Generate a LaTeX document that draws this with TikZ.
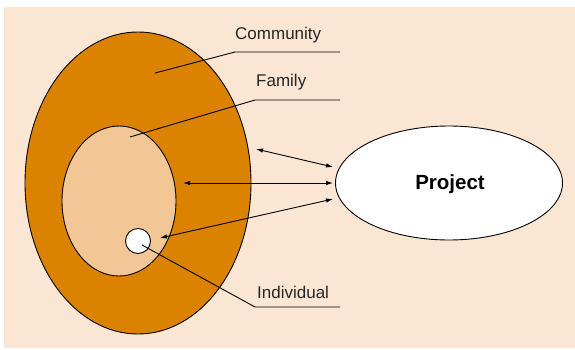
\documentclass[tikz,border=0pt]{standalone}
\usepackage{fontspec}
\setmainfont{Liberation Sans}
\usetikzlibrary{arrows.meta,shapes.geometric}
\definecolor{bgpeach}{HTML}{FAE6D3}
\definecolor{commorange}{HTML}{DB8300}
\definecolor{famtan}{HTML}{F2C795}
\begin{document}
\begin{tikzpicture}[x=1pt,y=-1pt,
  ring/.style={draw=black,line width=0.9pt},
  leader/.style={draw=black,line width=0.9pt},
  link/.style={draw=black,line width=0.9pt,{Latex[length=7pt,width=4.5pt]}-{Latex[length=7pt,width=4.5pt]}},
  lbl/.style={font=\fontsize{17}{19}\selectfont,text=black!85,inner sep=0pt,anchor=base west}]
\useasboundingbox (0,0) rectangle (575,350);
\fill[bgpeach] (4,7) rectangle (575,348);
% ellipses
\draw[ring,fill=commorange] (138,183) ellipse [x radius=113, y radius=151];
\draw[ring,fill=famtan] (119,201) ellipse [x radius=57, y radius=75];
\node[ring,fill=white,circle,minimum size=25pt,inner sep=0pt] (ind) at (138,241) {};
\node[ring,fill=white,ellipse,minimum width=227pt,minimum height=114pt,inner sep=0pt] (proj) at (449,183) {};
\node[font=\bfseries\fontsize{20.5}{22}\selectfont] at (450,184) {Project};
% coordinates
\coordinate (cA) at (155,73);
\coordinate (cB) at (235,52);
\coordinate (cC) at (340,52);
\coordinate (fA) at (130,137);
\coordinate (fB) at (255,100);
\coordinate (fC) at (340,100);
\coordinate (iA) at (142,245);
\coordinate (iB) at (255,307);
\coordinate (iC) at (340,307);
\draw[leader] (cA) -- (cB) -- (cC);
\draw[leader] (fA) -- (fB) -- (fC);
\draw[leader] (iA) -- (iB) -- (iC);
\node[lbl] (lc) at (235,40) {Community};
\node[lbl] (lf) at (256,87) {Family};
\node[lbl] (li) at (257,298) {Individual};
% arrows
\coordinate (a1) at (256,149);
\coordinate (b1) at (333,167);
\coordinate (a2) at (183,183);
\coordinate (b2) at (333,183);
\coordinate (a3) at (160,238);
\coordinate (b3) at (333,199);
\draw[link] (a1) -- (b1);
\draw[link] (a2) -- (b2);
\draw[link] (a3) -- (b3);
\end{tikzpicture}
\end{document}
